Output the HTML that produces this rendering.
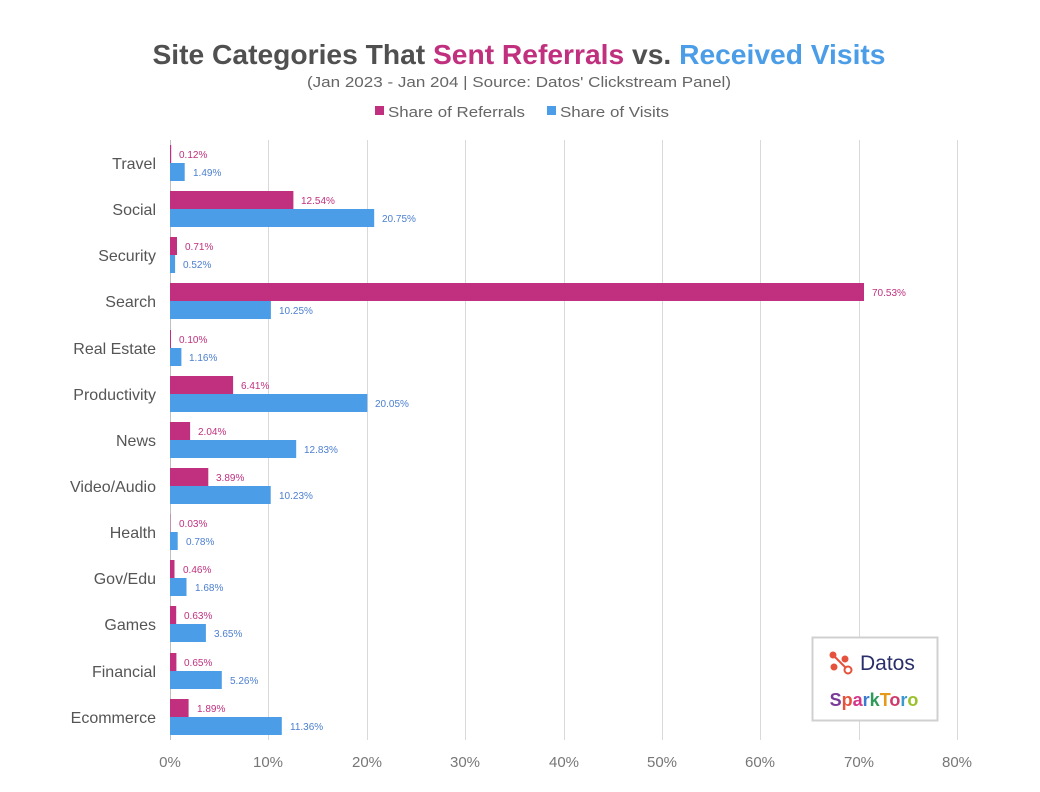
<!DOCTYPE html>
<html><head><meta charset="utf-8"><style>body{margin:0;background:#fff}svg{display:block}text{font-family:"Liberation Sans",sans-serif}</style></head><body>
<svg width="1040" height="792" viewBox="0 0 1040 792">
<text x="519" y="64" text-anchor="middle" font-size="28" font-weight="bold" fill="#505050" textLength="733" lengthAdjust="spacingAndGlyphs">Site Categories That <tspan fill="#c0307f">Sent Referrals</tspan> vs. <tspan fill="#4c9de8">Received Visits</tspan></text>
<text x="519" y="87" text-anchor="middle" font-size="15" fill="#666" textLength="424" lengthAdjust="spacingAndGlyphs">(Jan 2023 - Jan 204 | Source: Datos' Clickstream Panel)</text>
<rect x="375" y="106" width="9" height="9" fill="#c0307f"/><text x="388" y="117" font-size="15" fill="#666" textLength="137" lengthAdjust="spacingAndGlyphs">Share of Referrals</text>
<rect x="547" y="106" width="9" height="9" fill="#4c9de8"/><text x="560" y="117" font-size="15" fill="#666" textLength="109" lengthAdjust="spacingAndGlyphs">Share of Visits</text>
<g stroke="#d9d9d9" stroke-width="1">
<line x1="268.5" y1="140" x2="268.5" y2="740"/><line x1="367.5" y1="140" x2="367.5" y2="740"/><line x1="465.5" y1="140" x2="465.5" y2="740"/><line x1="564.5" y1="140" x2="564.5" y2="740"/><line x1="662.5" y1="140" x2="662.5" y2="740"/><line x1="760.5" y1="140" x2="760.5" y2="740"/><line x1="859.5" y1="140" x2="859.5" y2="740"/><line x1="957.5" y1="140" x2="957.5" y2="740"/>
</g>
<line x1="170.5" y1="140" x2="170.5" y2="740" stroke="#bfbfbf"/>
<g font-size="15" fill="#777" text-anchor="middle">
<text x="170" y="767">0%</text><text x="268" y="767">10%</text><text x="367" y="767">20%</text><text x="465" y="767">30%</text><text x="564" y="767">40%</text><text x="662" y="767">50%</text><text x="760" y="767">60%</text><text x="859" y="767">70%</text><text x="957" y="767">80%</text>
</g>
<g font-size="16" fill="#555" text-anchor="end">
<text x="156" y="169">Travel</text><text x="156" y="215">Social</text><text x="156" y="261">Security</text><text x="156" y="307">Search</text><text x="156" y="354">Real Estate</text><text x="156" y="400">Productivity</text><text x="156" y="446">News</text><text x="156" y="492">Video/Audio</text><text x="156" y="538">Health</text><text x="156" y="584">Gov/Edu</text><text x="156" y="630">Games</text><text x="156" y="677">Financial</text><text x="156" y="723">Ecommerce</text>
</g>
<g fill="#c0307f">
<rect x="170" y="145" width="1.2" height="18"/><rect x="170" y="191" width="123.4" height="18"/><rect x="170" y="237" width="7" height="18"/><rect x="170" y="283" width="694" height="18"/><rect x="170" y="330" width="1" height="18"/><rect x="170" y="376" width="63.1" height="18"/><rect x="170" y="422" width="20.1" height="18"/><rect x="170" y="468" width="38.3" height="18"/><rect x="170" y="514" width="0.3" height="18"/><rect x="170" y="560" width="4.5" height="18"/><rect x="170" y="606" width="6.2" height="18"/><rect x="170" y="653" width="6.4" height="18"/><rect x="170" y="699" width="18.6" height="18"/>
</g>
<g fill="#4c9de8">
<rect x="170" y="163" width="14.7" height="18"/><rect x="170" y="209" width="204.2" height="18"/><rect x="170" y="255" width="5.1" height="18"/><rect x="170" y="301" width="100.9" height="18"/><rect x="170" y="348" width="11.4" height="18"/><rect x="170" y="394" width="197.3" height="18"/><rect x="170" y="440" width="126.2" height="18"/><rect x="170" y="486" width="100.7" height="18"/><rect x="170" y="532" width="7.7" height="18"/><rect x="170" y="578" width="16.5" height="18"/><rect x="170" y="624" width="35.9" height="18"/><rect x="170" y="671" width="51.8" height="18"/><rect x="170" y="717" width="111.8" height="18"/>
</g>
<g font-size="10" fill="#c0307f">
<text x="179" y="158">0.12%</text><text x="301" y="204">12.54%</text><text x="185" y="250">0.71%</text><text x="872" y="296">70.53%</text><text x="179" y="343">0.10%</text><text x="241" y="389">6.41%</text><text x="198" y="435">2.04%</text><text x="216" y="481">3.89%</text><text x="179" y="527">0.03%</text><text x="183" y="573">0.46%</text><text x="184" y="619">0.63%</text><text x="184" y="666">0.65%</text><text x="197" y="712">1.89%</text>
</g>
<g font-size="10" fill="#4c7fd0">
<text x="193" y="176">1.49%</text><text x="382" y="222">20.75%</text><text x="183" y="268">0.52%</text><text x="279" y="314">10.25%</text><text x="189" y="361">1.16%</text><text x="375" y="407">20.05%</text><text x="304" y="453">12.83%</text><text x="279" y="499">10.23%</text><text x="186" y="545">0.78%</text><text x="195" y="591">1.68%</text><text x="214" y="637">3.65%</text><text x="230" y="684">5.26%</text><text x="290" y="730">11.36%</text>
</g>
<rect x="812.5" y="637.5" width="125" height="83" fill="#fff" stroke="#d0d0d0" stroke-width="2"/>
<g stroke="#e5533d" stroke-width="2" fill="none"><circle cx="833" cy="655" r="2.5" fill="#e5533d"/><circle cx="845" cy="659" r="2.5" fill="#e5533d"/><circle cx="834" cy="667" r="2.5" fill="#e5533d"/><circle cx="848" cy="670" r="3.5"/><line x1="833" y1="655" x2="846" y2="668"/></g>
<text x="860" y="670" font-size="21" fill="#2a2f6b">Datos</text>
<text x="874" y="706" text-anchor="middle" font-size="18" font-weight="bold" fill="#7a3a9a">S<tspan fill="#e5533d">p</tspan><tspan fill="#d4348a">a</tspan><tspan fill="#3a7ad0">r</tspan><tspan fill="#2f9a5a">k</tspan><tspan fill="#e59a1a">T</tspan><tspan fill="#d03a6a">o</tspan><tspan fill="#3a9ad0">r</tspan><tspan fill="#9ac02a">o</tspan></text>
</svg>
</body></html>
